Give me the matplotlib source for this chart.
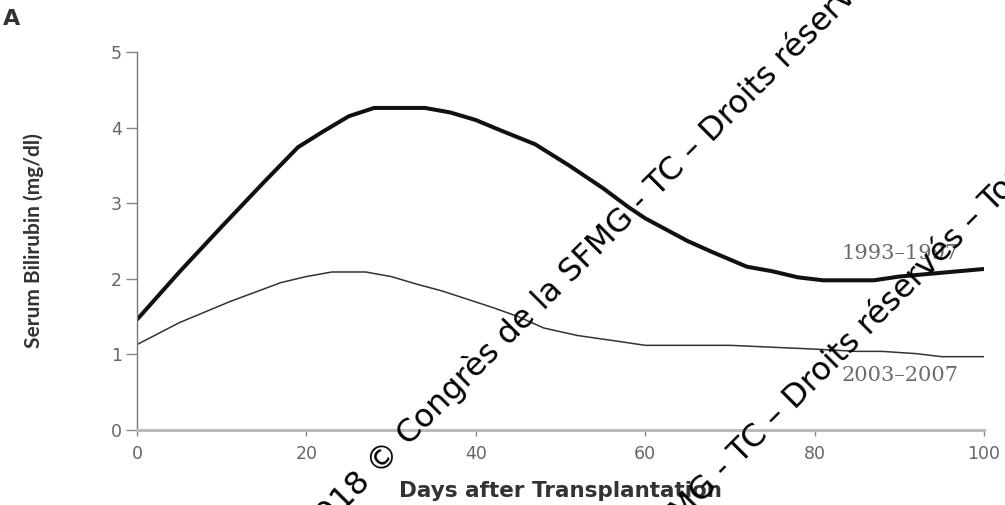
import numpy as np
import matplotlib
matplotlib.use("Agg")
import matplotlib.pyplot as plt

# values
days_old = [0, 5, 10, 15, 19, 22, 25, 28, 34, 37, 40, 43, 47, 51, 55, 58, 60, 62,
            65, 68, 72, 75, 78, 81, 87, 90, 95, 100]
bili_old = [1.46, 2.09, 2.69, 3.28, 3.74, 3.95, 4.15, 4.26, 4.26, 4.2, 4.1, 3.96,
            3.78, 3.5, 3.2, 2.95, 2.8, 2.68, 2.5, 2.35, 2.16, 2.1, 2.02, 1.98,
            1.98, 2.03, 2.08, 2.13]

days_new = [0, 5, 11, 17, 20, 23, 27, 30, 33, 36, 39, 42, 45, 48, 52, 57, 60, 70,
            76, 80, 85, 88, 92, 95, 100]
bili_new = [1.13, 1.42, 1.70, 1.95, 2.03, 2.09, 2.09, 2.03, 1.93, 1.84, 1.73, 1.62,
            1.5, 1.35, 1.25, 1.17, 1.12, 1.12, 1.09, 1.07, 1.04, 1.04, 1.01, 0.97, 0.97]

label_old = "1993\u20131997"
label_new = "2003\u20132007"
x_ticks = [0, 20, 40, 60, 80, 100]
y_ticks = [0, 1, 2, 3, 4, 5]

W, H = 1005, 505
fig = plt.figure(figsize=(W / 100, H / 100), dpi=100)
ax = fig.add_axes([137 / W, 1 - 430 / H, (984 - 137) / W, (430 - 52) / H])

ax.plot(days_old, bili_old, color='#111111', lw=2.9, solid_capstyle='butt')
ax.plot(days_new, bili_new, color='#333333', lw=1.1)

ax.set_xlim(0, 100)
ax.set_ylim(0, 5)
ax.set_xticks(x_ticks)
ax.set_yticks(y_ticks)
for s in ['top', 'right']:
    ax.spines[s].set_visible(False)
ax.spines['left'].set_color('#777777')
ax.spines['left'].set_linewidth(1.0)
ax.spines['bottom'].set_color('#bbbbbb')
ax.spines['bottom'].set_linewidth(2.2)
ax.tick_params(axis='both', direction='out', width=1, color='#888888',
               labelcolor='#666666', labelsize=12.5)
ax.tick_params(axis='y', length=8, pad=3)
ax.tick_params(axis='x', length=4.5, pad=6)
for t in ax.get_xticklabels() + ax.get_yticklabels():
    t.set_family('DejaVu Sans')

ax.text(90.1, 2.34, label_old, ha='center', va='center',
        family='DejaVu Serif', fontsize=15, color='#6a6a6a')
ax.text(90.1, 0.72, label_new, ha='center', va='center',
        family='DejaVu Serif', fontsize=15, color='#6a6a6a')

fig.text(34 / W, 1 - 241 / H, "Serum Bilirubin (mg/dl)", rotation=90, ha='center',
         va='center', family='Lato', fontweight='bold', fontsize=15, color='#333333')
fig.text(560 / W, 1 - 491 / H, "Days after Transplantation", ha='center', va='center',
         family='DejaVu Sans', fontweight='bold', fontsize=15.5, color='#333333')
fig.text(3 / W, 1 - 9 / H, "A", ha='left', va='top', family='DejaVu Sans',
         fontweight='bold', fontsize=16, color='#333333')

# watermark
left_part = "Congrès 2018 © Congrès de la SFMG - TC \u2013 "
right_part = "Droits réservés \u2013 Toute reproduction interdite"
for px, py in [(712, 143), (795, 410)]:
    fig.text(px / W, 1 - py / H, left_part, rotation=45, rotation_mode='anchor',
             ha='right', va='baseline', fontsize=23, color='black', family='DejaVu Sans')
    fig.text(px / W, 1 - py / H, right_part, rotation=45, rotation_mode='anchor',
             ha='left', va='baseline', fontsize=23, color='black', family='DejaVu Sans')

fig.savefig('out.png', dpi=100, facecolor='white')
